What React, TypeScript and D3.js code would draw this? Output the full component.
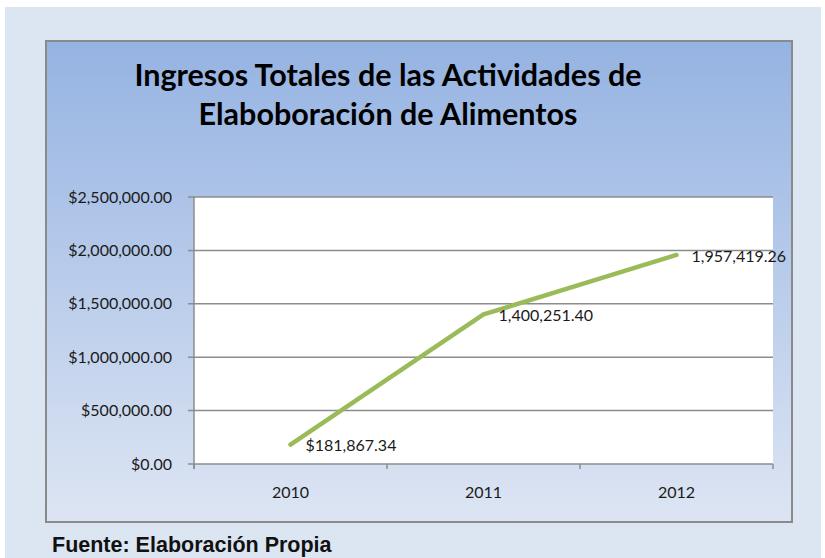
import { useEffect, useRef } from 'react';
import * as d3 from 'd3';

const years = ['2010', '2011', '2012'];
const ingresos = [181867.34, 1400251.4, 1957419.26];
const dataLabels = ['$181,867.34', '1,400,251.40', '1,957,419.26'];
const yTicks = [0, 500000, 1000000, 1500000, 2000000, 2500000];
const titleLines = ['Ingresos Totales de las Actividades de', 'Elaboboración de Alimentos'];
const fuente = 'Fuente: Elaboración Propia';

const W = 825;
const H = 558;
const FONT = 'Lato, "Open Sans", sans-serif';

export default function App() {
  const ref = useRef<SVGSVGElement>(null);

  useEffect(() => {
    if (!ref.current) return;
    const svg = d3.select(ref.current);
    svg.selectAll('*').remove();

    const plot = { left: 194, right: 773, top: 197, bottom: 464 };

    // page + chart box
    const defs = svg.append('defs');
    const grad = defs.append('linearGradient')
      .attr('id', 'box-grad')
      .attr('x1', 0).attr('y1', 0).attr('x2', 0).attr('y2', 1);
    grad.append('stop').attr('offset', '0%').attr('stop-color', '#95b3e2');
    grad.append('stop').attr('offset', '100%').attr('stop-color', '#dde5f3');

    svg.append('rect')
      .attr('x', 5).attr('y', 7)
      .attr('width', 816).attr('height', H - 7)
      .attr('fill', '#dce6f2');

    svg.append('rect')
      .attr('x', 46).attr('y', 41)
      .attr('width', 746).attr('height', 481)
      .attr('fill', 'url(#box-grad)')
      .attr('stroke', '#8a8a8a')
      .attr('stroke-width', 2);

    // title
    svg.append('text')
      .attr('x', 388)
      .attr('y', 86)
      .attr('text-anchor', 'middle')
      .attr('font-family', FONT)
      .attr('font-weight', 'bold')
      .attr('font-size', 30.5)
      .attr('fill', '#000')
      .selectAll('tspan')
      .data(titleLines)
      .join('tspan')
      .attr('x', 388)
      .attr('dy', (_d, i) => (i === 0 ? 0 : 39))
      .text(d => d);

    // plot area
    svg.append('rect')
      .attr('x', plot.left).attr('y', plot.top)
      .attr('width', plot.right - plot.left).attr('height', plot.bottom - plot.top)
      .attr('fill', '#fff');

    const x = d3.scaleBand<string>()
      .domain(years)
      .range([plot.left, plot.right]);

    const y = d3.scaleLinear()
      .domain([0, 2500000])
      .range([plot.bottom, plot.top]);

    // gridlines
    svg.append('g')
      .selectAll('line')
      .data(yTicks)
      .join('line')
      .attr('x1', plot.left - 6)
      .attr('x2', plot.right)
      .attr('y1', d => y(d))
      .attr('y2', d => y(d))
      .attr('stroke', '#8c8c8c')
      .attr('stroke-width', 1.5);

    // y axis line
    svg.append('line')
      .attr('x1', plot.left).attr('x2', plot.left)
      .attr('y1', plot.top).attr('y2', plot.bottom + 5)
      .attr('stroke', '#8c8c8c')
      .attr('stroke-width', 1.5);

    // x tick marks between categories
    const bounds = [...years.map(d => x(d) as number), plot.right];
    svg.append('g')
      .selectAll('line')
      .data(bounds)
      .join('line')
      .attr('x1', d => d).attr('x2', d => d)
      .attr('y1', plot.bottom).attr('y2', plot.bottom + 5)
      .attr('stroke', '#8c8c8c')
      .attr('stroke-width', 1.5);

    // y tick labels
    const money = d3.format('$,.2f');
    svg.append('g')
      .selectAll('text')
      .data(yTicks)
      .join('text')
      .attr('x', 172)
      .attr('y', d => y(d))
      .attr('dy', '0.35em')
      .attr('text-anchor', 'end')
      .attr('font-family', FONT)
      .attr('font-size', 16)
      .attr('fill', '#1a1a1a')
      .text(d => money(d));

    // x tick labels
    svg.append('g')
      .selectAll('text')
      .data(years)
      .join('text')
      .attr('x', d => (x(d) as number) + x.bandwidth() / 2)
      .attr('y', 498)
      .attr('text-anchor', 'middle')
      .attr('font-family', FONT)
      .attr('font-size', 16)
      .attr('fill', '#1a1a1a')
      .text(d => d);

    // line
    const pts = years.map((d, i) => ({ x: (x(d) as number) + x.bandwidth() / 2, y: y(ingresos[i]) }));
    const line = d3.line<{ x: number; y: number }>()
      .x(d => d.x)
      .y(d => d.y);

    svg.append('path')
      .datum(pts)
      .attr('d', line)
      .attr('fill', 'none')
      .attr('stroke', '#9bbb59')
      .attr('stroke-width', 4.5)
      .attr('stroke-linecap', 'round')
      .attr('stroke-linejoin', 'round');

    // data labels
    svg.append('g')
      .selectAll('text')
      .data(pts)
      .join('text')
      .attr('x', d => d.x + 15)
      .attr('y', d => d.y + 1)
      .attr('dy', '0.35em')
      .attr('font-family', FONT)
      .attr('font-size', 16)
      .attr('fill', '#1a1a1a')
      .text((_d, i) => dataLabels[i]);

    // source note
    svg.append('text')
      .attr('x', 52)
      .attr('y', 552)
      .attr('font-family', '"Liberation Sans", Arial, sans-serif')
      .attr('font-weight', 'bold')
      .attr('font-size', 21.5)
      .attr('fill', '#111')
      .text(fuente);
  }, []);

  return (
    <div style={{ position: 'absolute', left: 0, top: 0, width: W, height: H, background: '#fff' }}>
      <svg ref={ref} width={W} height={H} />
    </div>
  );
}
